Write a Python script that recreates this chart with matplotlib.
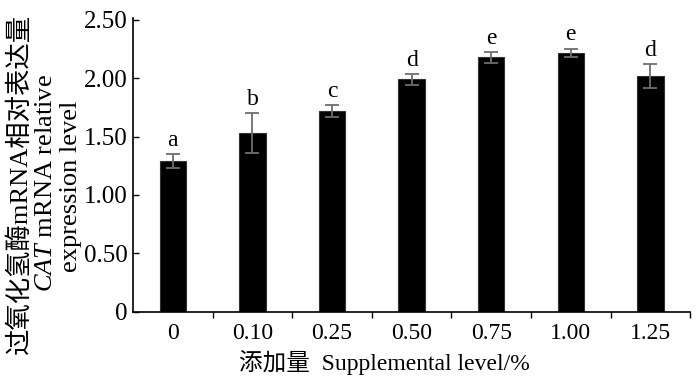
import matplotlib
matplotlib.use("Agg")
import matplotlib.pyplot as plt
import numpy as np

plt.rcParams['font.family'] = ['Liberation Serif', 'Noto Sans CJK SC']
plt.rcParams['mathtext.fontset'] = 'custom'
plt.rcParams['mathtext.it'] = 'Liberation Serif:italic'
plt.rcParams['mathtext.rm'] = 'Liberation Serif'

levels = ['0', '0.10', '0.25', '0.50', '0.75', '1.00', '1.25']
expr = [1.29, 1.53, 1.72, 1.99, 2.18, 2.22, 2.02]
err = [0.06, 0.17, 0.05, 0.045, 0.045, 0.035, 0.10]
letters = ['a', 'b', 'c', 'd', 'e', 'e', 'd']

fig = plt.figure(figsize=(7, 3.82), dpi=100)
ax = fig.add_axes([0.19, 0.184, 0.796, 0.77])

x = np.arange(len(levels))
ax.bar(x, expr, width=0.33, color='black', edgecolor='#333333', linewidth=0.8,
       yerr=err, ecolor='#6e6e6e', capsize=5, error_kw={'elinewidth': 1.3, 'capthick': 1.3})
for i in range(len(x)):
    ax.text(x[i], expr[i] + err[i] + 0.03, letters[i], ha='center', va='bottom', fontsize=17)

ax.set_xlim(-0.5, 6.5)
ax.set_ylim(0, 2.52)
ax.set_yticks([0, 0.5, 1.0, 1.5, 2.0, 2.5])
ax.set_yticklabels(['0', '0.50', '1.00', '1.50', '2.00', '2.50'], fontsize=18)
ax.set_xticks(x)
ax.set_xticklabels(levels, fontsize=17)
ax.set_xticks(x + 0.5, minor=True)
ax.tick_params(axis='x', which='major', length=0, pad=8)
ax.tick_params(axis='x', which='minor', direction='out', length=4, width=1)
ax.tick_params(axis='y', direction='in', length=4, width=1, pad=4)
for s in ['top', 'right']:
    ax.spines[s].set_visible(False)
for s in ['left', 'bottom']:
    ax.spines[s].set_linewidth(1.2)

fig.text(0.549, 0.018, '添加量  Supplemental level/%', ha='center', va='bottom', fontsize=17)
fig.text(0.028, 0.518, '过氧化氢酶mRNA相对表达量', rotation=90, ha='center', va='center', fontsize=19)
fig.text(0.066, 0.52, r'$\mathit{CAT}$ mRNA relative', rotation=90, ha='center', va='center', fontsize=19)
fig.text(0.102, 0.512, 'expression level', rotation=90, ha='center', va='center', fontsize=19)

fig.savefig('out.png', dpi=100)
